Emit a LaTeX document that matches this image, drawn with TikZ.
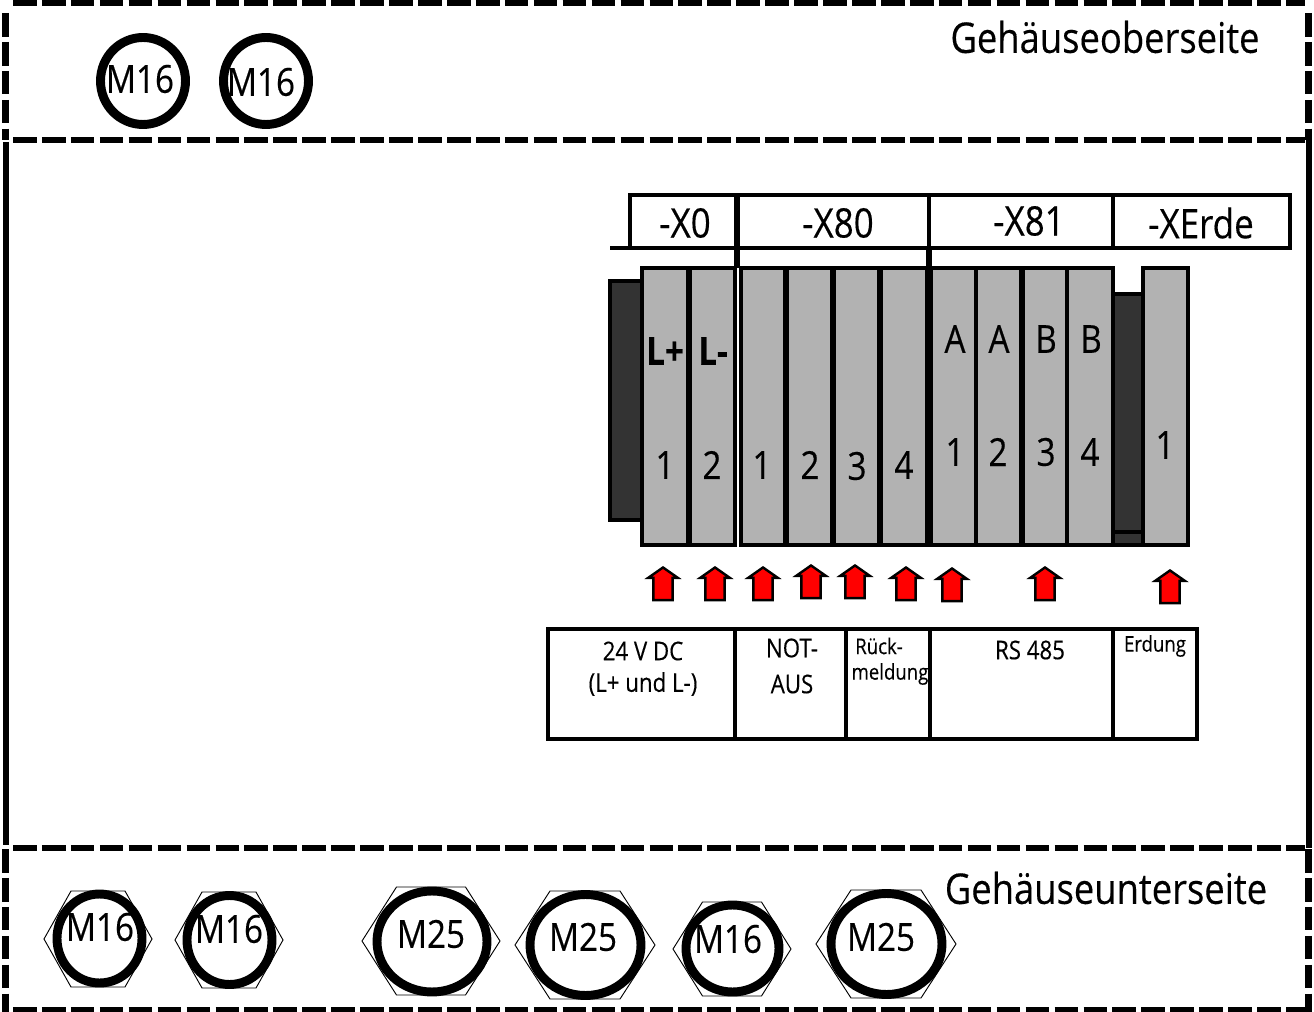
\documentclass[tikz,border=0pt]{standalone}
\usepackage{fontspec}
\setmainfont[FakeStretch=.86,FakeBold=.3]{Open Sans}
\usetikzlibrary{shapes.geometric,shapes.arrows}

\definecolor{klemme}{gray}{0.7}
\definecolor{traeger}{gray}{0.2}

\newcommand{\nut}[4]{\draw [line width=.7pt] (#1-#3,#2) -- (#1-#3/2,#2-#4) -- (#1+#3/2,#2-#4) -- (#1+#3,#2) -- (#1+#3/2,#2+#4) -- (#1-#3/2,#2+#4) -- cycle;}

\tikzset{
framedash/.style={line width=5.1pt, dash pattern=on 17.7pt off 4pt},
frameline/.style={line width=4.8pt},
gland/.style 2 args={ellipse, draw, line width=6.7pt, inner sep=0, outer sep=0, minimum width=#1*.75pt, minimum height=#2*.75pt},
cell/.style 2 args={rectangle, draw, line width=2.5pt, inner sep=0, outer sep=0, anchor=north west, minimum width=#1*.75pt, minimum height=#2*.75pt},
lowcell/.style 2 args={cell={#1}{#2}, line width=2.3pt},
terminal/.style={rectangle, draw, fill=klemme, line width=2.3pt, inner sep=0, outer sep=0, anchor=north west, minimum width=#1*.75pt, minimum height=207.75pt},
carrier/.style 2 args={rectangle, draw, fill=traeger, line width=2.3pt, inner sep=0, outer sep=0, anchor=north west, minimum width=#1*.75pt, minimum height=#2*.75pt},
divider/.style={line width=4pt},
feed/.style={single arrow, draw, fill=red, line width=1.8pt, rotate=90, anchor=tip, inner xsep=0, inner ysep=6.3pt, minimum height=24.5pt, single arrow head extend=4pt, single arrow tip angle=110},
big/.style={font=\fontsize{31.7}{32}\selectfont, inner sep=0},
head/.style={font=\fontsize{30.5}{31}\selectfont, inner sep=0},
mid/.style={font=\fontsize{29}{29}\selectfont, inner sep=0},
small/.style={font=\fontsize{19.4}{20}\selectfont, inner sep=0},
tiny/.style={font=\fontsize{16.2}{17}\selectfont, inner sep=0}
}

\begin{document}
\begin{tikzpicture}[x=.75pt, y=-.75pt]
\useasboundingbox (0,0) rectangle (1314,1012);

\draw [framedash] (13,3) -- (1305,3) (13,140) -- (1305,140) (5.5,13) -- (5.5,140) (1308.5,13) -- (1308.5,140);
\draw [framedash] (13,848) -- (1305,848) (13,1010) -- (1305,1010) (5.5,849) -- (5.5,1012) (1308.5,849) -- (1308.5,1012);
\draw [frameline] (6,142) -- (6,845);
\draw [frameline] (1309,140) -- (1309,848);

\node [big] (oben) at (1105,37) {Gehäuseoberseite};
\node [big] (unten) at (1106,888) {Gehäuseunterseite};

\node [gland={85}{87}] (o1) at (143,81) {};
\node [gland={85}{87}] (o2) at (266,81) {};
\node [mid] (ot1) at (140,79) {M16};
\node [mid] (ot2) at (261,82) {M16};

\nut{98}{939}{54}{48}
\nut{229}{940}{54}{48}
\nut{431}{941}{69}{54}
\nut{585}{945}{70}{54}
\nut{732}{949}{59}{47}
\nut{886}{944}{70}{54}
\node [gland={85}{89}] (u1) at (99.5,938.5) {};
\node [gland={85}{89}] (u2) at (229.5,940) {};
\node [gland={110}{101}] (u3) at (432,941.5) {};
\node [gland={111}{101}] (u4) at (585.5,945) {};
\node [gland={93}{87}] (u5) at (732.5,948.5) {};
\node [gland={111}{101}] (u6) at (886.5,944) {};
\node [mid] (ut1) at (100,927) {M16};
\node [mid] (ut2) at (229,929) {M16};
\node [mid] (ut3) at (431,934) {M25};
\node [mid] (ut4) at (583,937) {M25};
\node [mid] (ut5) at (728,939) {M16};
\node [mid] (ut6) at (881,937) {M25};

\node [cell={107}{53}] (x0) at (630,195) {};
\node [cell={192}{53}] (x80) at (737,195) {};
\node [cell={184}{53}] (x81) at (929,195) {};
\node [cell={177}{53}] (xe) at (1113,195) {};
\draw [line width=2.5pt] (610,248) -- (x0.south west);
\draw [divider] (x0.north east) -- ([yshift=-15pt]x0.south east);
\draw [divider] (x81.south west) -- ([yshift=-15pt]x81.south west);
\node [head] (xt0) at (685,223) {-X0};
\node [head] (xt80) at (838,223) {-X80};
\node [head] (xt81) at (1029,221) {-X81};
\node [head] (xte) at (1201,223) {-XErde};

\node [carrier={32}{239}] (links) at (610,281) {};
\node [carrier={30}{251}] (rechts) at (1113,294) {};
\draw [line width=2.3pt] (1113,532) -- (1143,532);

\node [terminal=47] (a1) at (642,268) {};
\node [terminal=46] (a2) at (689,268) {};
\node [terminal=45] (b1) at (741,268) {};
\node [terminal=47] (b2) at (786,268) {};
\node [terminal=47] (b3) at (833,268) {};
\node [terminal=47] (b4) at (880,268) {};
\node [terminal=45] (c1) at (931,268) {};
\node [terminal=46] (c2) at (976,268) {};
\node [terminal=45] (c3) at (1022,268) {};
\node [terminal=46] (c4) at (1067,268) {};
\node [terminal=45] (e1) at (1143,268) {};
\foreach \t in {a1,b1,b2,b3,c2}
\draw [divider] (\t.north east) -- (\t.south east);

\node [mid, font=\fontsize{29}{29}\selectfont\bfseries] (lp) at (665,351) {L+};
\node [mid, font=\fontsize{29}{29}\selectfont\bfseries] (lm) at (713,351) {L-};
\node [mid] (la1) at (955,339) {A};
\node [mid] (la2) at (999,339) {A};
\node [mid] (lb1) at (1046,339) {B};
\node [mid] (lb2) at (1091,339) {B};

\node [mid] (na1) at (665,465) {1};
\node [mid] (na2) at (712,465) {2};
\node [mid] (nb1) at (762,465) {1};
\node [mid] (nb2) at (810,465) {2};
\node [mid] (nb3) at (857,466) {3};
\node [mid] (nb4) at (904,465) {4};
\node [mid] (nc1) at (955,452) {1};
\node [mid] (nc2) at (998,452) {2};
\node [mid] (nc3) at (1046,452) {3};
\node [mid] (nc4) at (1090,452) {4};
\node [mid] (ne1) at (1165,445) {1};

\node [feed] (p1) at (663,566) {};
\node [feed] (p2) at (715,566) {};
\node [feed] (p3) at (763,566) {};
\node [feed] (p4) at (811,564) {};
\node [feed] (p5) at (855,564) {};
\node [feed] (p6) at (906,566) {};
\node [feed] (p7) at (952,567) {};
\node [feed] (p8) at (1045,566) {};
\node [feed] (p9) at (1170,569) {};

\node [lowcell={187}{110}] (d1) at (548,629) {};
\node [lowcell={111}{110}] (d2) at (735,629) {};
\node [lowcell={84}{110}] (d3) at (846,629) {};
\node [lowcell={183}{110}] (d4) at (930,629) {};
\node [lowcell={84}{110}] (d5) at (1113,629) {};
\node [small] (dt1) at (643,651) {24 V DC};
\node [small] (dt1b) at (643,684) {(L+ und L-)};
\node [small] (dt2) at (792,648) {NOT-};
\node [small] (dt2b) at (792,684) {AUS};
\node [tiny] (dt3) at (879,646) {Rück-};
\node [tiny] (dt3b) at (890,674) {meldung};
\node [small] (dt4) at (1030,650) {RS 485};
\node [tiny] (dt5) at (1155,646) {Erdung};
\end{tikzpicture}
\end{document}
